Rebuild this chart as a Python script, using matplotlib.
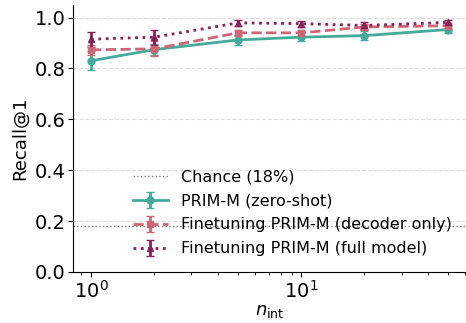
import matplotlib
matplotlib.use("Agg")
import matplotlib.pyplot as plt

# number of interventions and recall scores per model variant
n_int = [1, 2, 5, 10, 20, 50]

zero_shot = [0.830, 0.874, 0.912, 0.923, 0.929, 0.953]
zero_shot_err = [0.038, 0.022, 0.018, 0.015, 0.018, 0.012]

decoder_only = [0.873, 0.877, 0.940, 0.940, 0.963, 0.968]
decoder_only_err = [0.020, 0.030, 0.012, 0.012, 0.012, 0.010]

full_model = [0.915, 0.923, 0.979, 0.976, 0.969, 0.981]
full_model_err = [0.030, 0.030, 0.012, 0.012, 0.012, 0.010]

chance = 0.18

fig = plt.figure(figsize=(4.66, 3.23), dpi=100)
ax = fig.add_axes([0.157, 0.158, 0.843, 0.827])

ax.axhline(chance, color="gray", linestyle=":", linewidth=1, label="Chance (18%)")
ax.errorbar(n_int, zero_shot, yerr=zero_shot_err, color="#44AA99", marker="o",
            markersize=5, linewidth=2, linestyle="-", capsize=3,
            label="PRIM-M (zero-shot)")
ax.errorbar(n_int, decoder_only, yerr=decoder_only_err, color="#CC6677", marker="s",
            markersize=5, linewidth=2, linestyle="--", capsize=3,
            label="Finetuning PRIM-M (decoder only)")
ax.errorbar(n_int, full_model, yerr=full_model_err, color="#882255", marker="^",
            markersize=5, linewidth=2, linestyle=":", capsize=3,
            label="Finetuning PRIM-M (full model)")

ax.set_xscale("log")
ax.set_ylim(0, 1.05)
ax.set_yticks([0.0, 0.2, 0.4, 0.6, 0.8, 1.0])
ax.yaxis.grid(True, linestyle="--", color="#dddddd", linewidth=0.8)
ax.set_axisbelow(True)
ax.spines["top"].set_visible(False)
ax.spines["right"].set_visible(False)
ax.tick_params(labelsize=14, pad=2)
ax.set_xlabel(r"$n_{\mathrm{int}}$", fontsize=13, labelpad=0)
ax.set_ylabel("Recall@1", fontsize=13, labelpad=4)

ax.legend(loc="lower right", frameon=False, fontsize=11.5, handlelength=2.2,
          bbox_to_anchor=(1.0, 0.005), labelspacing=0.55)

fig.savefig("out.png", dpi=100)
